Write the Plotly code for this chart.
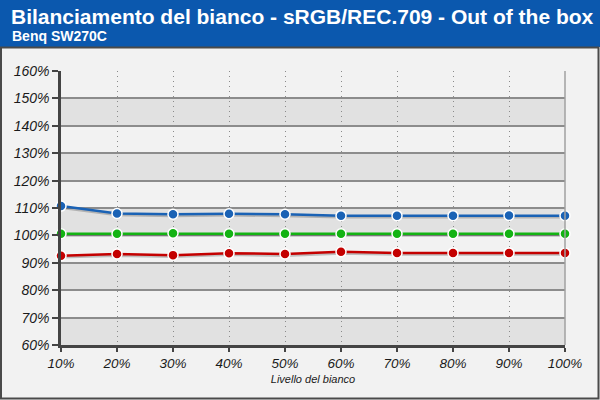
import plotly.graph_objects as go

# livelli del bianco (%)
livelli = [10, 20, 30, 40, 50, 60, 70, 80, 90, 100]
etichette_x = ["10%", "20%", "30%", "40%", "50%", "60%", "70%", "80%", "90%", "100%"]

# valori misurati (%)
blu = [110.7, 108.0, 107.7, 107.9, 107.7, 107.2, 107.2, 107.2, 107.3, 107.2]
verde = [100.6, 100.6, 100.8, 100.6, 100.6, 100.6, 100.6, 100.6, 100.6, 100.6]
rosso = [92.6, 93.2, 92.8, 93.5, 93.2, 94.0, 93.6, 93.6, 93.6, 93.6]

y_ticks = [60, 70, 80, 90, 100, 110, 120, 130, 140, 150, 160]
etichette_y = ["60%", "70%", "80%", "90%", "100%", "110%", "120%", "130%", "140%", "150%", "160%"]

W, H = 600, 400
L, R, T, B = 61, 35, 71, 55
pw, ph = W - L - R, H - T - B


def px(x):
    return (x - L) / pw


def py(y):
    return 1 + (T - y) / ph


fig = go.Figure()

serie = [("Blu", blu, "#1a62b5"), ("Verde", verde, "#13b313"), ("Rosso", rosso, "#c40000")]

# ombre delle linee
for nome, valori, colore in serie:
    fig.add_trace(go.Scatter(
        x=livelli, y=[v - 0.5 for v in valori], mode="lines",
        line=dict(color="rgba(70,70,70,0.3)", width=3),
        hoverinfo="skip", showlegend=False, cliponaxis=False,
    ))

for nome, valori, colore in serie:
    fig.add_trace(go.Scatter(
        x=livelli, y=valori, name=nome, mode="lines+markers",
        line=dict(color=colore, width=2.5),
        marker=dict(size=10, color=colore, line=dict(color="white", width=1.5)),
        showlegend=False, cliponaxis=False,
    ))

shapes = []
# bande alternate
for i in range(0, len(y_ticks) - 1, 2):
    shapes.append(dict(type="rect", xref="x", yref="y", x0=livelli[0], x1=livelli[-1],
                       y0=y_ticks[i], y1=y_ticks[i + 1], fillcolor="#e1e1e1",
                       line=dict(width=0), layer="below"))
# barra del titolo
shapes.append(dict(type="rect", xref="paper", yref="paper", x0=px(0), x1=px(W),
                   y0=py(47), y1=py(0), fillcolor="#0b58ae", line=dict(width=0)))
# cornice
shapes.append(dict(type="rect", xref="paper", yref="paper", x0=px(1), x1=px(598.5),
                   y0=py(398.5), y1=py(47.5), fillcolor="rgba(0,0,0,0)",
                   line=dict(color="#4a4a4a", width=2)))
# bordo destro area grafico
shapes.append(dict(type="line", xref="paper", yref="paper", x0=1, x1=1, y0=0, y1=1,
                   line=dict(color="#a0a0a0", width=1.5)))

fig.update_layout(
    width=W, height=H,
    margin=dict(l=L, r=R, t=T, b=B),
    paper_bgcolor="#f2f2f2",
    plot_bgcolor="#f2f2f2",
    font=dict(family="Liberation Sans, Arial, sans-serif", color="#1a1a1a"),
    shapes=shapes,
    annotations=[
        dict(text="<b>Bilanciamento del bianco - sRGB/REC.709 - Out of the box</b>",
             xref="paper", yref="paper", x=px(9), y=py(17), xanchor="left", yanchor="middle",
             showarrow=False, font=dict(size=21, color="white")),
        dict(text="<b>Benq SW270C</b>",
             xref="paper", yref="paper", x=px(10), y=py(36), xanchor="left", yanchor="middle",
             showarrow=False, font=dict(size=14, color="white")),
    ],
)

fig.update_xaxes(
    range=[livelli[0], livelli[-1]], tickvals=livelli,
    ticktext=["<i>%s</i>" % t for t in etichette_x],
    showgrid=True, gridcolor="#8a8a8a", griddash="1px,4px", gridwidth=1,
    showline=True, linecolor="#444444", linewidth=2.5,
    ticks="outside", ticklen=4, tickcolor="#444444", tickwidth=1.5,
    tickfont=dict(size=13.5),
    title=dict(text="<i>Livello del bianco</i>", font=dict(size=11), standoff=6),
    zeroline=False,
)
fig.update_yaxes(
    range=[y_ticks[0], y_ticks[-1]], tickvals=y_ticks,
    ticktext=["<i>%s</i>" % t for t in etichette_y],
    showgrid=True, gridcolor="#8c8c8c", gridwidth=1.5,
    showline=True, linecolor="#444444", linewidth=2.5,
    ticks="outside", ticklen=6, tickcolor="#444444", tickwidth=2,
    tickfont=dict(size=14),
    zeroline=False,
)

fig.write_html("out.html", config={"displayModeBar": False},
               post_script="document.body.style.margin='0';")
